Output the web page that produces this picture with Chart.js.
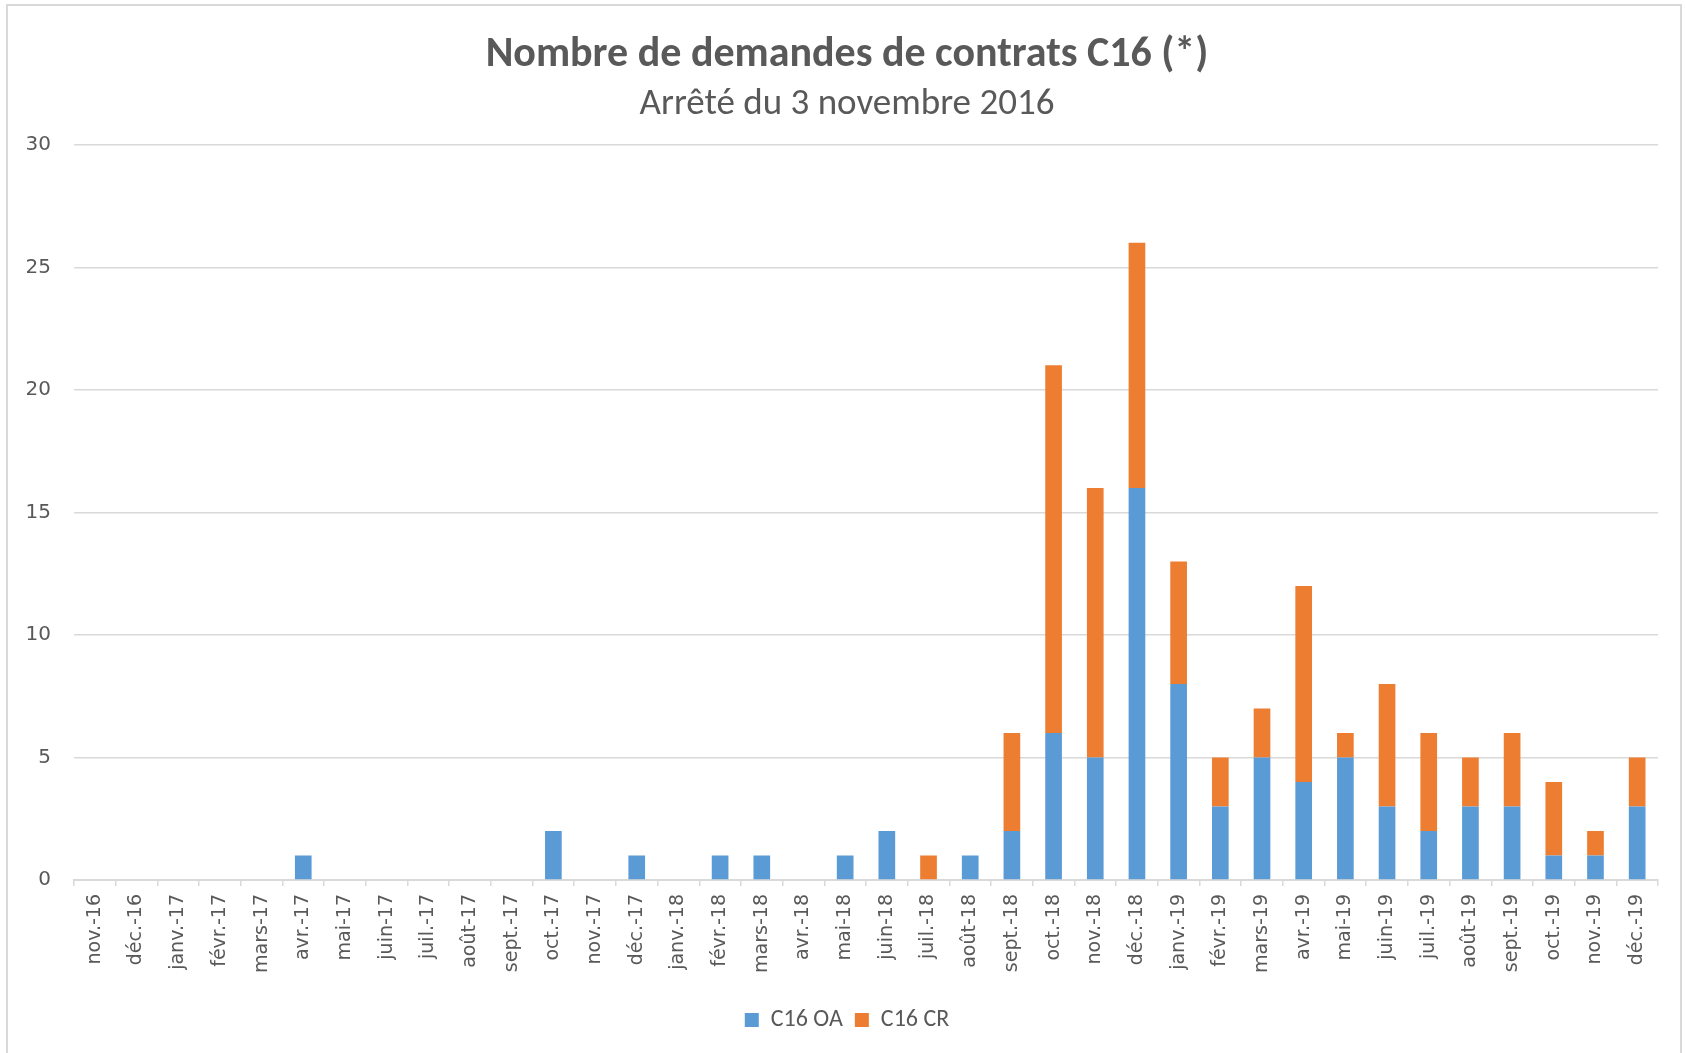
<!DOCTYPE html>
<html>
<head>
<meta charset="utf-8">
<script src="https://cdn.jsdelivr.net/npm/chart.js@4"></script>
<style>
  html, body { margin: 0; padding: 0; background: #fff; }
  #wrap { position: relative; width: 1685px; height: 1053px; overflow: hidden; }
  #frame { position: absolute; left: 6px; top: 4px; width: 1676px; height: 1100px;
           border: 2px solid #D9D9D9; box-sizing: border-box; }
  #chart { position: absolute; left: 0; top: 0; }
</style>
</head>
<body>
<div id="wrap">
  <div id="frame"></div>
  <canvas id="chart" width="1685" height="1053"></canvas>
</div>
<script>
// ---------------- DATA ----------------
const months = [
    "nov.-16", "déc.-16",
    "janv.-17", "févr.-17", "mars-17", "avr.-17", "mai-17", "juin-17",
    "juil.-17", "août-17", "sept.-17", "oct.-17", "nov.-17", "déc.-17",
    "janv.-18", "févr.-18", "mars-18", "avr.-18", "mai-18", "juin-18",
    "juil.-18", "août-18", "sept.-18", "oct.-18", "nov.-18", "déc.-18",
    "janv.-19", "févr.-19", "mars-19", "avr.-19", "mai-19", "juin-19",
    "juil.-19", "août-19", "sept.-19", "oct.-19", "nov.-19", "déc.-19"
];

const c16OA = [
    0, 0,
    0, 0, 0, 1, 0, 0, 0, 0, 0, 2, 0, 1,
    0, 1, 1, 0, 1, 2, 0, 1, 2, 6, 5, 16,
    8, 3, 5, 4, 5, 3, 2, 3, 3, 1, 1, 3
];

const c16CR = [
    0, 0,
    0, 0, 0, 0, 0, 0, 0, 0, 0, 0, 0, 0,
    0, 0, 0, 0, 0, 0, 1, 0, 4, 15, 11, 10,
    5, 2, 2, 8, 1, 5, 4, 2, 3, 3, 1, 2
];

const yTicks = { min: 0, max: 30, step: 5 };

const titleText = "Nombre de demandes de contrats C16 (*)";
const subtitleText = "Arrêté du 3 novembre 2016";

// ---------------- STYLE ----------------
const textGrey = "#595959";
const gridGrey = "#D9D9D9";
const blue = "#5B9BD5";
const orange = "#ED7D31";
const calibri = "Carlito, Calibri, Lato, sans-serif";
const tickFont = "'DejaVu Sans', Verdana, sans-serif";

// title, subtitle and legend are centred on the whole sheet, not the plot
const centreOnSheet = {
    id: "centreOnSheet",
    afterLayout(chart) {
        const shift = 18;
        chart.boxes.forEach(box => {
            if (box instanceof Chart.Scale) return;
            if (box.position === "top" || box.position === "bottom") {
                box.left += shift;
                box.right += shift;
            }
        });
    }
};

// ---------------- CREATE CHART ----------------
const ctx = document.getElementById("chart");

new Chart(ctx, {
    type: "bar",
    data: {
        labels: months,
        datasets: [
            { label: "C16 OA", data: c16OA, backgroundColor: blue, borderWidth: 0 },
            { label: "C16 CR", data: c16CR, backgroundColor: orange, borderWidth: 0 }
        ]
    },
    plugins: [centreOnSheet],
    options: {
        responsive: false,
        animation: false,
        layout: { padding: { left: 0, right: 27, top: 0, bottom: 11 } },
        datasets: {
            bar: { barPercentage: 0.4, categoryPercentage: 1.0 }
        },
        plugins: {
            title: {
                display: true,
                text: titleText,
                color: textGrey,
                font: { family: calibri, size: 42, weight: "bold", lineHeight: 1.2 },
                padding: { top: 30, bottom: 2 }
            },
            subtitle: {
                display: true,
                text: subtitleText,
                color: textGrey,
                font: { family: calibri, size: 37, weight: "normal", lineHeight: 1.2 },
                padding: { top: 0, bottom: 18 }
            },
            legend: {
                position: "bottom",
                labels: {
                    color: textGrey,
                    font: { family: calibri, size: 24 },
                    boxWidth: 14,
                    boxHeight: 14,
                    padding: 12
                }
            },
            tooltip: { enabled: false }
        },
        scales: {
            x: {
                stacked: true,
                grid: {
                    offset: true,
                    drawOnChartArea: false,
                    drawTicks: true,
                    tickLength: 6,
                    color: gridGrey,
                    lineWidth: 1.5
                },
                border: { display: true, color: gridGrey, width: 2 },
                ticks: {
                    color: textGrey,
                    font: { family: tickFont, size: 19 },
                    minRotation: 90,
                    maxRotation: 90,
                    autoSkip: false,
                    padding: 8
                },
                afterFit(scale) { scale.height = 116; }
            },
            y: {
                stacked: true,
                min: yTicks.min,
                max: yTicks.max,
                grid: { color: gridGrey, lineWidth: 1.5, drawTicks: false },
                border: { display: false },
                ticks: {
                    stepSize: yTicks.step,
                    color: textGrey,
                    font: { family: tickFont, size: 20 },
                    padding: 23
                },
                afterFit(scale) { scale.width = 74; }
            }
        }
    }
});
</script>
</body>
</html>
